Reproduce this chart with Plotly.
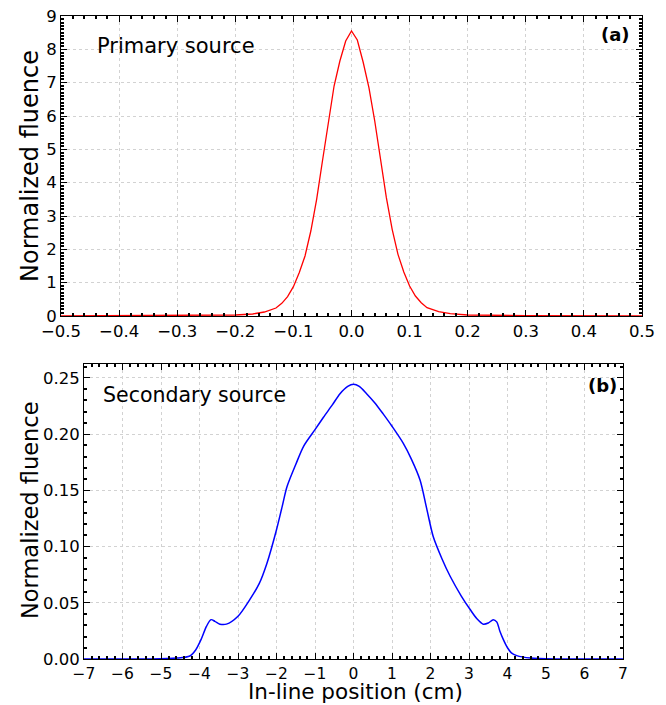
import plotly.graph_objects as go

# ---- data ----
x_primary = [-0.5, -0.3, -0.2, -0.17, -0.15, -0.13, -0.12, -0.11, -0.10, -0.09, -0.08,
             -0.07, -0.06, -0.05, -0.04, -0.03, -0.02, -0.01, 0.0, 0.01, 0.02, 0.03,
             0.04, 0.05, 0.06, 0.07, 0.08, 0.09, 0.10, 0.11, 0.12, 0.13, 0.15, 0.17,
             0.20, 0.30, 0.50]
y_primary = [0.0, 0.01, 0.03, 0.06, 0.12, 0.24, 0.38, 0.58, 0.88, 1.30, 1.80,
             2.55, 3.50, 4.65, 5.85, 6.90, 7.65, 8.25, 8.55, 8.28, 7.62, 6.85,
             5.85, 4.70, 3.55, 2.60, 1.85, 1.32, 0.90, 0.60, 0.40, 0.25, 0.13, 0.07,
             0.03, 0.01, 0.0]

x_secondary = [-7.0, -5.3, -4.6, -4.25, -4.1, -3.95, -3.82, -3.7, -3.6, -3.47, -3.3, -3.0,
               -2.69, -2.45, -2.25, -2.0, -1.85, -1.73, -1.5, -1.30, -1.0, -0.78, -0.55,
               -0.35, -0.15, 0.0, 0.15, 0.34, 0.55, 0.77, 1.0, 1.29, 1.5, 1.73, 1.9, 2.07,
               2.3, 2.51, 2.8, 3.03, 3.2, 3.37, 3.5, 3.63, 3.72, 3.8, 3.89, 4.0, 4.1,
               4.24, 4.6, 5.3, 7.0]
y_secondary = [0.0, 0.0, 0.0008, 0.0027, 0.008, 0.018, 0.029, 0.035, 0.0335, 0.031, 0.031, 0.038,
               0.053, 0.067, 0.085, 0.115, 0.136, 0.153, 0.173, 0.189, 0.204, 0.215, 0.226,
               0.236, 0.2425, 0.2444, 0.2425, 0.236, 0.228, 0.218, 0.207, 0.192, 0.178, 0.159, 0.134, 0.109,
               0.089, 0.0736, 0.056, 0.044, 0.036, 0.031, 0.032, 0.035, 0.033, 0.025, 0.0175, 0.010, 0.0055,
               0.003, 0.0008, 0.0, 0.0]

W, H = 666, 705
FONT = "DejaVu Sans"


def xd(a, b):
    return [a / W, b / W]


def yd(top, bottom):
    return [1 - bottom / H, 1 - top / H]


fig = go.Figure()
fig.add_trace(go.Scatter(x=x_primary, y=y_primary, mode="lines",
                         line=dict(color="#ff0000", width=1.3),
                         xaxis="x", yaxis="y", showlegend=False))
fig.add_trace(go.Scatter(x=x_secondary, y=y_secondary, mode="lines",
                         line=dict(color="#0000ff", width=1.5, shape="spline", smoothing=0.8),
                         xaxis="x2", yaxis="y2", showlegend=False))

common = dict(showline=True, linecolor="black", linewidth=1, mirror="allticks",
              ticks="inside", ticklen=6, tickwidth=1.2, tickcolor="black",
              showgrid=True, gridcolor="#d2d2d2", griddash="dot", gridwidth=1,
              zeroline=False, automargin=False, tickmode="linear")


def minor(dt):
    return dict(dtick=dt, ticks="inside", ticklen=3, tickwidth=2,
                tickcolor="black", showgrid=False)


def tf(size):
    return dict(family=FONT, size=size, color="black")


fig.update_layout(
    width=W, height=H,
    margin=dict(l=0, r=0, t=0, b=0),
    plot_bgcolor="white", paper_bgcolor="white",
    font=dict(family=FONT, color="black"),
    xaxis=dict(domain=xd(61, 642), range=[-0.5, 0.5], anchor="y",
               tick0=-0.5, dtick=0.1, tickformat=".1f", minor=minor(0.02),
               tickfont=tf(16.5), **common),
    yaxis=dict(domain=yd(16, 316), range=[0, 9], anchor="x",
               tick0=0, dtick=1, tickformat="d", minor=minor(0.1),
               tickfont=tf(16.5), **common),
    xaxis2=dict(domain=xd(84, 623), range=[-7, 7], anchor="y2",
                tick0=-7, dtick=1, tickformat="d", minor=minor(0.2),
                tickfont=tf(15.5), **common),
    yaxis2=dict(domain=yd(364, 659), range=[0, 0.2624], anchor="x2",
                tick0=0, dtick=0.05, tickformat=".2f", minor=minor(0.01),
                tickfont=tf(16.5), **common),
)

# axis titles placed as paper annotations
fig.add_annotation(text="Normalized fluence", xref="paper", yref="paper",
                   x=30 / W, y=1 - 166 / H, xanchor="center", yanchor="middle", textangle=-90,
                   showarrow=False, font=dict(family=FONT, size=24, color="black"))
fig.add_annotation(text="Normalized fluence", xref="paper", yref="paper",
                   x=30 / W, y=1 - 510 / H, xanchor="center", yanchor="middle", textangle=-90,
                   showarrow=False, font=dict(family=FONT, size=22.5, color="black"))
fig.add_annotation(text="In-line position (cm)", xref="paper", yref="paper",
                   x=355 / W, y=0, xanchor="center", yanchor="bottom", yshift=-1,
                   showarrow=False, font=dict(family=FONT, size=21.5, color="black"))

fig.add_annotation(text="Primary source", xref="paper", yref="paper",
                   x=95 / W, y=1 - 46 / H, xanchor="left", yanchor="middle",
                   showarrow=False, font=dict(family=FONT, size=21, color="black"))
fig.add_annotation(text="<b>(a)</b>", xref="paper", yref="paper",
                   x=632 / W, y=1 - 35 / H, xanchor="right", yanchor="middle",
                   showarrow=False, font=dict(family=FONT, size=18, color="black"))
fig.add_annotation(text="Secondary source", xref="paper", yref="paper",
                   x=101 / W, y=1 - 395 / H, xanchor="left", yanchor="middle",
                   showarrow=False, font=dict(family=FONT, size=20.5, color="black"))
fig.add_annotation(text="<b>(b)</b>", xref="paper", yref="paper",
                   x=619 / W, y=1 - 385 / H, xanchor="right", yanchor="middle",
                   showarrow=False, font=dict(family=FONT, size=18, color="black"))

fig.write_html("out.html")
